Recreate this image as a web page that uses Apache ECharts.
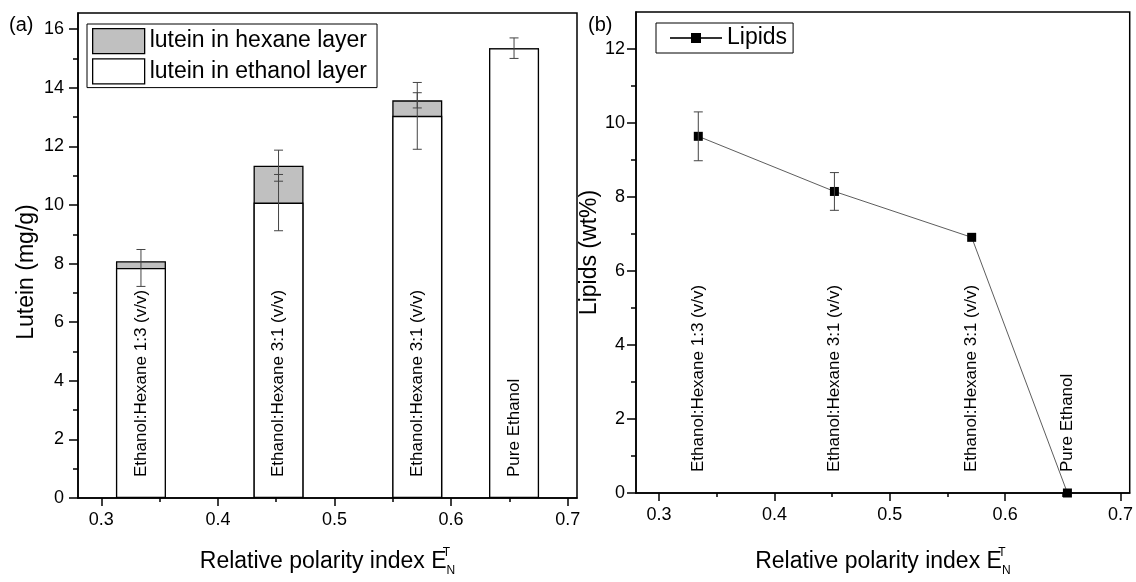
<!DOCTYPE html>
<html>
<head>
<meta charset="utf-8">
<script src="https://cdn.jsdelivr.net/npm/echarts@6/dist/echarts.min.js"></script>
<style>
  html, body { margin: 0; padding: 0; background: #fff; }
  #chart { width: 1136px; height: 582px; }
</style>
</head>
<body>
<div id="chart"></div>
<script>
// Relative polarity index of each extraction solvent
const polarity = [0.334, 0.452, 0.571, 0.654];
const solventLabels = [
  'Ethanol:Hexane 1:3 (v/v)',
  'Ethanol:Hexane 3:1 (v/v)',
  'Ethanol:Hexane 3:1 (v/v)',
  'Pure Ethanol'
];

// Panel (a): lutein yield, mg/g
const luteinEthanol = [7.85, 10.08, 13.04, 15.35];
const luteinHexane = [0.23, 1.26, 0.53, 0];
const luteinEthanolErr = [0.63, 0.96, 1.14, 0.35];
const luteinTotalErr = [0, 0.53, 0.26, 0];

// Panel (b): lipids, wt%
const lipids = [9.64, 8.15, 6.91, 0];
const lipidsErr = [0.66, 0.51, 0, 0];

// Tick positions
const xTicks = [0.3, 0.4, 0.5, 0.6, 0.7];
const xMinorTicks = [0.35, 0.45, 0.55, 0.65];
const luteinTicks = [0, 2, 4, 6, 8, 10, 12, 14, 16];
const luteinMinorTicks = [1, 3, 5, 7, 9, 11, 13, 15];
const lipidTicks = [0, 2, 4, 6, 8, 10, 12];
const lipidMinorTicks = [1, 3, 5, 7, 9, 11];

const FONT = '"Liberation Sans", Arial, sans-serif';

const luteinTotal = luteinEthanol.map((v, i) => v + luteinHexane[i]);

const luteinErrData = polarity.map((x, i) => [x, luteinEthanol[i], luteinEthanolErr[i]])
  .concat(polarity.map((x, i) => [x, luteinTotal[i], luteinTotalErr[i]]))
  .filter(d => d[2] > 0);
const lipidErrData = polarity.map((x, i) => [x, lipids[i], lipidsErr[i]]).filter(d => d[2] > 0);
const labelData = polarity.map(x => [x, 0]);

function renderErrorBar(params, api) {
  const x = api.value(0), y = api.value(1), e = api.value(2);
  const top = api.coord([x, y + e]);
  const bot = api.coord([x, y - e]);
  const half = 4.5;
  const st = () => ({ stroke: '#444', lineWidth: 1 });
  return {
    type: 'group',
    children: [
      { type: 'line', shape: { x1: top[0], y1: top[1], x2: bot[0], y2: bot[1] }, style: st() },
      { type: 'line', shape: { x1: top[0] - half, y1: top[1], x2: top[0] + half, y2: top[1] }, style: st() },
      { type: 'line', shape: { x1: bot[0] - half, y1: bot[1], x2: bot[0] + half, y2: bot[1] }, style: st() }
    ]
  };
}

function renderSolventLabel(params, api) {
  const p = api.coord([api.value(0), 0]);
  return {
    type: 'text',
    x: p[0],
    y: p[1] - 21,
    rotation: Math.PI / 2,
    style: {
      text: solventLabels[params.dataIndex],
      fill: '#000',
      fontSize: 17,
      fontFamily: FONT,
      align: 'left',
      verticalAlign: 'middle'
    }
  };
}

const axisLineStyle = { color: '#000', width: 1.5 };

function xAxisPair(gridIndex, nameGap) {
  return [
    {
      type: 'value', gridIndex, position: 'bottom', min: 0.28, max: 0.708,
      name: 'Relative polarity index E{t|T}{n|N}',
      nameLocation: 'middle', nameGap,
      nameTextStyle: {
        fontSize: 23, fontFamily: FONT, color: '#000', lineHeight: 30,
        rich: {
          t: { fontSize: 12, fontFamily: FONT, color: '#000', verticalAlign: 'top', width: 0, lineHeight: 14 },
          n: { fontSize: 12, fontFamily: FONT, color: '#000', verticalAlign: 'bottom', lineHeight: 14 }
        }
      },
      axisLine: { show: true, onZero: false, lineStyle: axisLineStyle },
      axisTick: { show: true, customValues: xTicks, length: 8, lineStyle: { color: '#000', width: 1.5 } },
      axisLabel: { show: true, customValues: xTicks, fontSize: 18, fontFamily: FONT, color: '#000', margin: 13,
        formatter: v => Number(v).toFixed(1) },
      splitLine: { show: false }
    },
    {
      type: 'value', gridIndex, position: 'bottom', offset: 0, min: 0.28, max: 0.708,
      axisLine: { show: false, onZero: false },
      axisTick: { show: true, customValues: xMinorTicks, length: 4, lineStyle: { color: '#000', width: 1.5 } },
      axisLabel: { show: false },
      splitLine: { show: false }
    }
  ];
}

function yAxisPair(gridIndex, max, ticks, minor, name, nameGap, labelMargin, namePad) {
  return [
    {
      type: 'value', gridIndex, position: 'left', min: 0, max,
      name, nameLocation: 'middle', nameGap,
      nameTextStyle: { fontSize: 23, fontFamily: FONT, color: '#000', padding: namePad },
      axisLine: { show: true, onZero: false, lineStyle: axisLineStyle },
      axisTick: { show: true, customValues: ticks, length: 9, lineStyle: { color: '#000', width: 1.5 } },
      axisLabel: { show: true, customValues: ticks, fontSize: 18, fontFamily: FONT, color: '#000', margin: labelMargin },
      splitLine: { show: false }
    },
    {
      type: 'value', gridIndex, position: 'left', offset: 0, min: 0, max,
      axisLine: { show: false, onZero: false },
      axisTick: { show: true, customValues: minor, length: 5, lineStyle: { color: '#000', width: 1.5 } },
      axisLabel: { show: false },
      splitLine: { show: false }
    }
  ];
}

const option = {
  animation: false,
  backgroundColor: '#fff',
  textStyle: { fontFamily: FONT },
  title: [
    { text: '(a)', left: 9, top: 15, padding: 0, textStyle: { fontSize: 20, fontWeight: 'normal', fontFamily: FONT, color: '#000', lineHeight: 20 } },
    { text: '(b)', left: 588, top: 15, padding: 0, textStyle: { fontSize: 20, fontWeight: 'normal', fontFamily: FONT, color: '#000', lineHeight: 20 } }
  ],
  grid: [
    { left: 78, top: 13, width: 499, height: 486, show: true, borderColor: '#000', borderWidth: 1.5, backgroundColor: 'transparent' },
    { left: 636, top: 12, width: 498, height: 487, show: true, borderColor: '#000', borderWidth: 1.5, backgroundColor: 'transparent' }
  ],
  xAxis: [...xAxisPair(0, 49), ...xAxisPair(1, 54)],
  yAxis: [
    ...yAxisPair(0, 16.55, luteinTicks, luteinMinorTicks, 'Lutein (mg/g)', 40, 14, [0, 33, 0, 0]),
    ...yAxisPair(1, 13, lipidTicks, lipidMinorTicks, 'Lipids (wt%)', 25, 11, 0)
  ],
  legend: [
    {
      left: 87, top: 24, orient: 'vertical',
      data: ['lutein in hexane layer', 'lutein in ethanol layer'],
      icon: 'rect', itemWidth: 52, itemHeight: 25, itemGap: 4,
      padding: [4, 10, 3, 5],
      borderColor: '#000', borderWidth: 1,
      itemStyle: { borderColor: '#000', borderWidth: 1.3 },
      textStyle: { fontSize: 23, fontFamily: FONT, color: '#000', lineHeight: 25 }
    },
    {
      left: 656, top: 23,
      data: ['Lipids'],
      itemWidth: 52, itemHeight: 12.5,
      padding: [3, 6, 3, 13],
      borderColor: '#000', borderWidth: 1,
      textStyle: { fontSize: 23, fontFamily: FONT, color: '#000', lineHeight: 24 }
    }
  ],
  series: [
    {
      name: 'lutein in hexane layer', type: 'bar', xAxisIndex: 0, yAxisIndex: 0,
      data: polarity.map((x, i) => [x, luteinTotal[i]]),
      barWidth: 50, barGap: '-100%',
      itemStyle: { color: '#c0c0c0', borderColor: '#000', borderWidth: 1.3 },
      z: 2
    },
    {
      name: 'lutein in ethanol layer', type: 'bar', xAxisIndex: 0, yAxisIndex: 0,
      data: polarity.map((x, i) => [x, luteinEthanol[i]]),
      barWidth: 50, barGap: '-100%',
      itemStyle: { color: '#fff', borderColor: '#000', borderWidth: 1.3 },
      z: 3
    },
    {
      type: 'custom', xAxisIndex: 0, yAxisIndex: 0,
      data: luteinErrData, renderItem: renderErrorBar, z: 5
    },
    {
      type: 'custom', xAxisIndex: 0, yAxisIndex: 0,
      data: labelData, renderItem: renderSolventLabel, z: 6
    },
    {
      name: 'Lipids', type: 'line', xAxisIndex: 2, yAxisIndex: 2,
      data: polarity.map((x, i) => [x, lipids[i]]),
      symbol: 'rect', symbolSize: 9,
      itemStyle: { color: '#000' },
      lineStyle: { color: '#333', width: 0.8 },
      z: 4
    },
    {
      type: 'custom', xAxisIndex: 2, yAxisIndex: 2,
      data: lipidErrData, renderItem: renderErrorBar, z: 5
    },
    {
      type: 'custom', xAxisIndex: 2, yAxisIndex: 2,
      data: labelData, renderItem: renderSolventLabel, z: 6
    }
  ]
};

const chart = echarts.init(document.getElementById('chart'));
chart.setOption(option);
</script>
</body>
</html>
